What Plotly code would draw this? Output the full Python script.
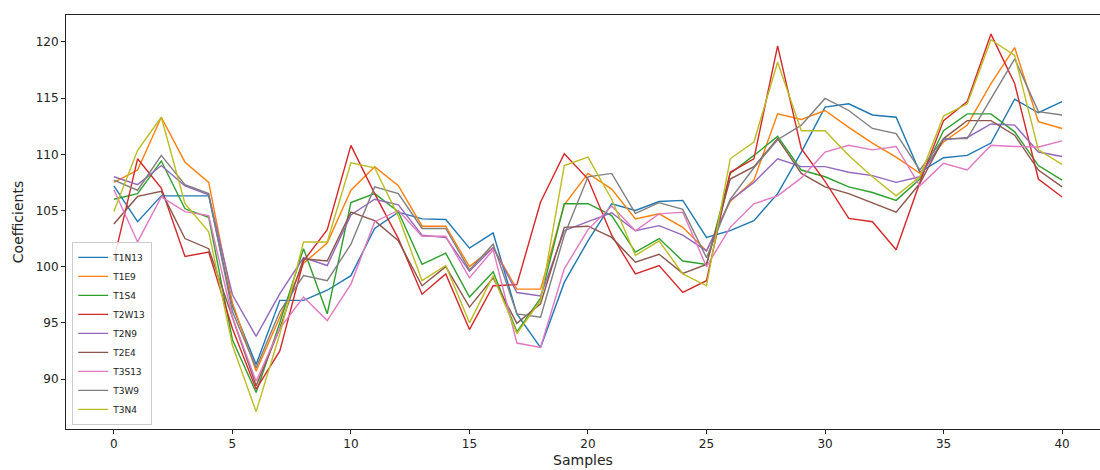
import plotly.graph_objects as go

samples = list(range(41))

T1N13 = [107.2, 104.0, 106.3, 106.3, 106.3, 96.5, 91.3, 97.0, 97.0, 97.9,
         99.2, 103.4, 104.85, 104.25, 104.2, 101.65, 103.0, 95.8, 92.8, 98.6,
         102.3, 105.6, 105.0, 105.8, 105.9, 102.6, 103.2, 104.1, 106.5, 110.2,
         114.2, 114.5, 113.5, 113.3, 108.4, 109.7, 109.9, 111.0, 114.9, 113.7, 114.7]
T1E9 = [107.5, 108.6, 113.3, 109.3, 107.5, 96.8, 90.7, 95.5, 100.3, 102.1,
        106.8, 108.9, 107.2, 103.6, 103.6, 100.0, 101.7, 98.0, 98.0, 105.5,
        108.3, 106.9, 104.25, 104.7, 103.5, 101.4, 105.8, 107.7, 113.6, 113.1,
        113.9, 112.4, 111.0, 109.75, 108.3, 111.1, 112.6, 116.3, 119.5, 112.9, 112.3]
T1S4 = [106.0, 106.5, 109.4, 105.15, 104.4, 93.5, 88.8, 95.0, 101.6, 95.8,
        105.7, 106.5, 104.9, 100.2, 101.2, 97.3, 99.55, 94.2, 97.2, 105.6,
        105.6, 104.55, 101.3, 102.5, 100.5, 100.2, 108.3, 109.9, 111.6, 108.6,
        108.0, 107.1, 106.6, 105.9, 107.8, 112.1, 113.6, 113.6, 112.0, 109.0, 107.7]
T2W13 = [100.6, 109.6, 107.0, 100.9, 101.3, 94.5, 89.1, 92.5, 100.5, 103.3,
         110.8, 106.5, 102.5, 97.55, 99.35, 94.4, 98.3, 98.4, 105.75, 110.05,
         107.8, 102.8, 99.35, 100.1, 97.7, 98.75, 108.4, 109.6, 119.65, 110.5,
         107.6, 104.3, 104.0, 101.5, 107.5, 113.0, 114.7, 120.7, 116.3, 107.8, 106.2]
T2N9 = [108.0, 107.3, 109.0, 107.2, 106.4, 97.5, 93.8, 97.6, 100.8, 100.1,
        104.6, 106.0, 105.5, 102.8, 102.6, 99.6, 101.7, 97.7, 97.4, 103.2,
        104.0, 104.8, 103.2, 103.65, 102.8, 101.4, 105.9, 107.5, 109.6, 108.9,
        108.9, 108.4, 108.1, 107.5, 108.0, 111.3, 111.5, 112.7, 112.6, 110.2, 109.8]
T2E4 = [103.8, 106.25, 106.7, 102.5, 101.6, 95.5, 89.4, 94.5, 100.7, 100.5,
        104.85, 104.1, 102.3, 98.3, 100.0, 96.4, 99.0, 94.95, 96.7, 103.5,
        103.6, 102.6, 100.4, 101.1, 99.4, 100.2, 107.8, 108.9, 111.4, 108.3,
        107.1, 106.5, 105.7, 104.85, 107.4, 111.4, 113.0, 113.0, 111.7, 108.6, 107.1]
T3S13 = [106.85, 102.2, 106.2, 104.9, 104.55, 95.5, 89.8, 94.5, 97.3, 95.2,
         98.45, 104.0, 105.0, 102.7, 102.7, 99.0, 101.5, 93.2, 92.8, 99.8,
         103.3, 105.4, 103.2, 104.7, 104.85, 100.0, 103.5, 105.6, 106.3, 107.9,
         110.2, 110.8, 110.4, 110.7, 107.2, 109.2, 108.6, 110.8, 110.7, 110.65, 111.2]
T3W9 = [107.7, 106.8, 109.9, 107.3, 106.5, 96.0, 91.0, 96.0, 99.2, 98.75,
        102.0, 107.1, 106.5, 103.4, 103.4, 99.7, 102.0, 95.8, 95.5, 102.8,
        108.0, 108.3, 104.75, 105.7, 105.1, 100.8, 106.0, 108.8, 111.3, 112.6,
        114.97, 113.9, 112.3, 111.85, 108.6, 111.4, 111.4, 115.0, 118.5, 113.8, 113.5]
T3N4 = [104.9, 110.36, 113.3, 105.6, 103.1, 93.0, 87.1, 94.0, 102.2, 102.2,
        109.25, 108.8, 104.5, 98.75, 100.1, 95.0, 99.2, 94.05, 97.0, 109.0,
        109.75, 106.0, 101.0, 102.3, 99.35, 98.3, 109.6, 111.1, 118.2, 112.1,
        112.1, 109.9, 108.0, 106.3, 108.0, 113.4, 114.5, 120.2, 118.8, 110.4, 109.1]

series_names = ["T1N13", "T1E9", "T1S4", "T2W13", "T2N9", "T2E4", "T3S13", "T3W9", "T3N4"]
series_values = [T1N13, T1E9, T1S4, T2W13, T2N9, T2E4, T3S13, T3W9, T3N4]
colors = ["#1f77b4", "#ff7f0e", "#2ca02c", "#d62728", "#9467bd",
          "#8c564b", "#e377c2", "#7f7f7f", "#bcbd22"]

x_ticks = [0, 5, 10, 15, 20, 25, 30, 35, 40]
y_ticks = [90, 95, 100, 105, 110, 115, 120]

fig = go.Figure()
for name, vals, col in zip(series_names, series_values, colors):
    fig.add_trace(go.Scatter(x=samples, y=vals, mode="lines", name=name,
                             line=dict(color=col, width=1.4)))

axis_font = dict(family="DejaVu Sans", size=12, color="#222")
fig.update_layout(
    width=1100, height=470,
    margin=dict(l=66, r=0, t=15, b=41),
    plot_bgcolor="white", paper_bgcolor="white",
    font=dict(family="DejaVu Sans", color="#222"),
    showlegend=True,
    legend=dict(x=0.006, y=0.01, xanchor="left", yanchor="bottom",
                bgcolor="rgba(255,255,255,0.85)", bordercolor="#cccccc",
                borderwidth=1, font=dict(size=9, color="#222"),
                itemwidth=30, tracegroupgap=0),
    xaxis=dict(range=[-2.02, 41.6], tickvals=x_ticks, ticks="outside", ticklen=4,
               tickcolor="#222", showline=True, linecolor="#222", linewidth=1,
               mirror=True, showgrid=False, zeroline=False, tickfont=axis_font,
               title=dict(text="Samples", font=dict(size=14, color="#222"), standoff=4)),
    yaxis=dict(range=[85.55, 122.4], tickvals=y_ticks, ticks="outside", ticklen=4,
               tickcolor="#222", showline=True, linecolor="#222", linewidth=1,
               mirror=False, showgrid=False, zeroline=False, tickfont=axis_font,
               title=dict(text="Coefficients", font=dict(size=14, color="#222"), standoff=8)),
)

fig.write_html("out.html")
